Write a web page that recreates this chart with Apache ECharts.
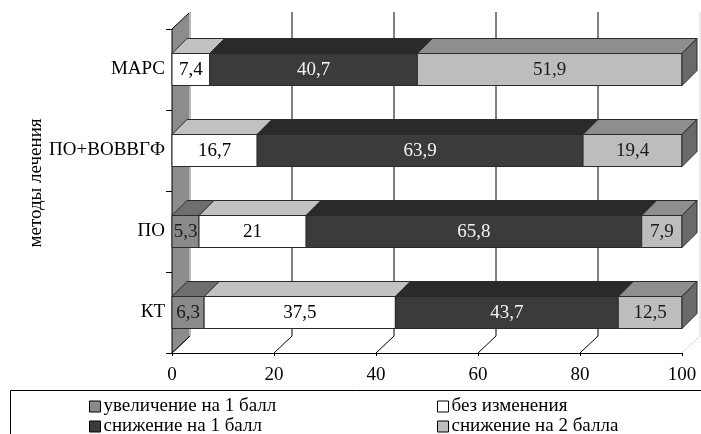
<!DOCTYPE html>
<html>
<head>
<meta charset="utf-8">
<script src="https://cdn.jsdelivr.net/npm/echarts@6/dist/echarts.min.js"></script>
<style>
  html, body { margin: 0; padding: 0; background: #fff; }
  #chart { width: 701px; height: 434px; }
</style>
</head>
<body>
<div id="chart"></div>
<script>
// Treatment methods (top to bottom)
const categories = ['МАРС', 'ПО+ВОВВГФ', 'ПО', 'КТ'];
// Share of patients per outcome, %
const seriesNames = ['увеличение на 1 балл', 'без изменения', 'снижение на 1 балл', 'снижение на 2 балла'];
const increase1 = [0, 0, 5.3, 6.3];
const noChange = [7.4, 16.7, 21, 37.5];
const decrease1 = [40.7, 63.9, 65.8, 43.7];
const decrease2 = [51.9, 19.4, 7.9, 12.5];
const xTicks = [0, 20, 40, 60, 80, 100];

const values = [increase1, noChange, decrease1, decrease2];

// Shading for each outcome: front face, top face, side face, label colour
const shades = [
  { front: '#8a8a8a', top: '#6e6e6e', side: '#5e5e5e', text: '#1a1a1a' },
  { front: '#ffffff', top: '#c2c2c2', side: '#a0a0a0', text: '#000' },
  { front: '#3b3b3b', top: '#2a2a2a', side: '#222222', text: '#f4f4f4' },
  { front: '#bdbdbd', top: '#8e8e8e', side: '#6a6a6a', text: '#1a1a1a' }
];

const FONT = '"Liberation Serif", "DejaVu Serif", serif';
const DX = 18, DY = 17;   // depth of the walls
const BD = 15;            // depth of the bars
const BAR_H = 32;         // height of the bar front face

// Stack segments: [start, end, categoryIndex, value, isLastInRow]
function buildSegments(si) {
  const out = [];
  categories.forEach((c, ci) => {
    let start = 0;
    for (let k = 0; k < si; k++) start += values[k][ci];
    const v = values[si][ci];
    let lastIdx = 0;
    values.forEach((arr, k) => { if (arr[ci] > 0) lastIdx = k; });
    if (v > 0) out.push([start, start + v, ci, v, lastIdx === si ? 1 : 0]);
  });
  return out;
}

function fmt(v) { return String(v).replace('.', ','); }

function renderFrame(params, api) {
  const cs = params.coordSys;
  const top = cs.y, bottom = cs.y + cs.height;
  const x0 = api.coord([0, 0])[0];
  const children = [];
  // back wall grid lines and floor depth lines
  xTicks.forEach(v => {
    const x = api.coord([v, 0])[0];
    const edge = v === xTicks[xTicks.length - 1];
    const col = edge ? '#d8d8d8' : '#000';
    if (v !== xTicks[0]) {
      children.push({ type: 'line', shape: { x1: x + DX, y1: top - DY, x2: x + DX, y2: bottom - DY },
        style: { stroke: col, lineWidth: 1 } });
    }
    children.push({ type: 'line', shape: { x1: x, y1: bottom, x2: x + DX, y2: bottom - DY },
      style: { stroke: col, lineWidth: 1 } });
  });
  // left side wall
  children.push({ type: 'polygon',
    shape: { points: [[x0, top], [x0 + DX, top - DY], [x0 + DX, bottom - DY], [x0, bottom]] },
    style: { fill: '#8c8c8c', stroke: '#000', lineWidth: 1 } });
  children.push({ type: 'line', shape: { x1: x0 + DX, y1: top - DY, x2: x0 + DX, y2: bottom - DY },
    style: { stroke: '#b8b8b8', lineWidth: 2 } });
  return { type: 'group', children };
}

function makeRender(si) {
  const sh = shades[si];
  return function (params, api) {
    const s = api.value(0), e = api.value(1), ci = api.value(2), v = api.value(3), last = api.value(4);
    const p0 = api.coord([s, ci]);
    const p1 = api.coord([e, ci]);
    const xa = p0[0], xb = p1[0];
    const y0 = p0[1] - BAR_H / 2, y1 = p0[1] + BAR_H / 2;
    const stroke = { stroke: '#2a2a2a', lineWidth: 1 };
    const children = [
      { type: 'polygon', shape: { points: [[xa, y0], [xb, y0], [xb + BD, y0 - BD], [xa + BD, y0 - BD]] },
        style: Object.assign({ fill: sh.top }, stroke) },
      { type: 'rect', shape: { x: xa, y: y0, width: xb - xa, height: y1 - y0 },
        style: Object.assign({ fill: sh.front }, stroke) }
    ];
    if (last) {
      children.push({ type: 'polygon', shape: { points: [[xb, y0], [xb + BD, y0 - BD], [xb + BD, y1 - BD], [xb, y1]] },
        style: Object.assign({ fill: sh.side }, stroke) });
    }
    children.push({ type: 'text', style: {
      text: fmt(v), x: (xa + xb) / 2, y: p0[1] + 1, fill: sh.text,
      font: '19px ' + FONT, textAlign: 'center', textVerticalAlign: 'middle' } });
    return { type: 'group', children };
  };
}

const chart = echarts.init(document.getElementById('chart'), null, { renderer: 'canvas' });

const series = [{
  type: 'custom', name: 'frame', silent: true, z: 1,
  renderItem: renderFrame, data: [[0, 0]], clip: false
}];
seriesNames.forEach((n, si) => {
  series.push({
    type: 'custom', name: n, z: 2 + si, clip: false,
    itemStyle: { color: shades[si].front, borderColor: '#000', borderWidth: 1 },
    encode: { x: [0, 1], y: 2 },
    renderItem: makeRender(si),
    data: buildSegments(si)
  });
});

// Legend: two columns, two rows
const legendSpots = [[89, 397], [437, 397], [89, 417], [437, 417]];
const legends = seriesNames.map((n, i) => ({
  left: legendSpots[i][0], top: legendSpots[i][1], data: [n],
  icon: 'rect', itemWidth: 11, itemHeight: 11, padding: 0, selectedMode: false,
  itemStyle: { borderColor: '#000', borderWidth: 1 },
  textStyle: { fontFamily: FONT, fontSize: 19, color: '#000', padding: [0, 0, 0, -2] }
}));

chart.setOption({
  animation: false,
  backgroundColor: '#fff',
  grid: { left: 172, right: 19, top: 29, bottom: 81 },
  xAxis: {
    type: 'value', min: 0, max: 100, interval: 20,
    axisLine: { show: true, lineStyle: { color: '#000' } },
    axisTick: { show: true, length: 3, lineStyle: { color: '#000' } },
    splitLine: { show: false },
    axisLabel: { fontFamily: FONT, fontSize: 19, color: '#000', margin: 13 }
  },
  yAxis: {
    type: 'category', data: categories, inverse: true,
    axisLine: { show: true, lineStyle: { color: '#000' } },
    axisTick: { show: true, length: 6, lineStyle: { color: '#000' } },
    axisLabel: { fontFamily: FONT, fontSize: 19, color: '#000', margin: 7 }
  },
  legend: legends,
  graphic: [
    { type: 'rect', left: 8, top: 388, shape: { width: 720, height: 60 },
      style: { fill: 'none', stroke: '#000', lineWidth: 1 }, silent: true },
    { type: 'text', x: 36, y: 183, rotation: Math.PI / 2,
      style: { text: 'методы лечения', font: '19px ' + FONT, fill: '#000',
               textAlign: 'center', textVerticalAlign: 'middle' } }
  ],
  series
});
</script>
</body>
</html>
